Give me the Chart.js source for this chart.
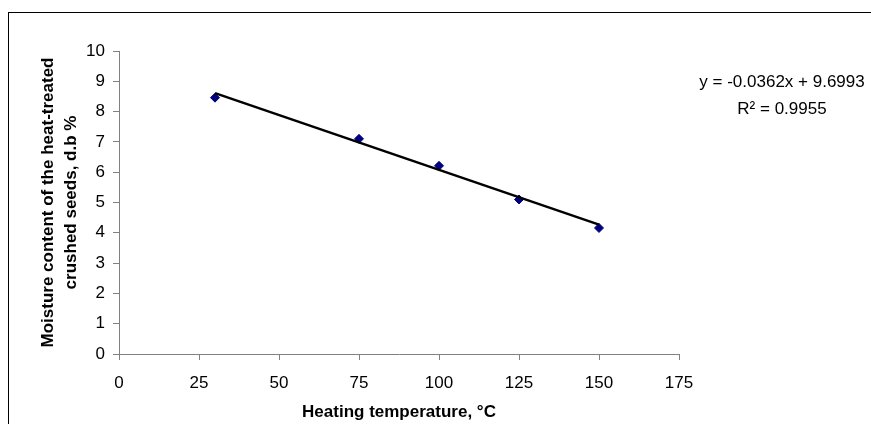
<!DOCTYPE html>
<html lang="en">
<head>
    <meta charset="UTF-8">
    <title>Moisture content vs heating temperature</title>
    <script src="https://cdn.jsdelivr.net/npm/chart.js"></script>
    <style>
        html, body {
            margin: 0;
            padding: 0;
            background: #fff;
            overflow: hidden;
        }
        .wrap {
            position: relative;
            width: 871px;
            height: 424px;
        }
        /* chart frame, only top and left edges are inside the picture */
        .frame {
            position: absolute;
            left: 8px;
            top: 12px;
            width: 900px;
            height: 500px;
            border: 1px solid #000;
        }
        canvas {
            position: absolute;
            left: 0;
            top: 0;
        }
    </style>
</head>
<body>
    <div class="wrap">
        <div class="frame"></div>
        <canvas id="myChart" width="871" height="424"></canvas>
    </div>

    <script>
        // data
        const temps = [30, 75, 100, 125, 150];
        const moisture = [8.46, 7.10, 6.21, 5.10, 4.16];

        // linear trendline ends, as drawn
        const trendX = [30, 150];
        const trendY = [8.61, 4.27];

        const xTicks = [0, 25, 50, 75, 100, 125, 150, 175];
        const yTicks = [0, 1, 2, 3, 4, 5, 6, 7, 8, 9, 10];

        const eqLine1 = 'y = -0.0362x + 9.6993';
        const eqLine2 = 'R² = 0.9955';

        const axisGray = '#808080';
        const font = 'Liberation Sans';

        // equation text next to the plot
        const equationPlugin = {
            id: 'equation',
            afterDraw(chart) {
                const ctx = chart.ctx;
                const area = chart.chartArea;
                const cx = area.right + 103;
                ctx.save();
                ctx.fillStyle = '#000';
                ctx.font = '17px "' + font + '"';
                ctx.textAlign = 'center';
                ctx.textBaseline = 'middle';
                ctx.fillText(eqLine1, cx, area.top + 31);
                ctx.fillText(eqLine2, cx, area.top + 58);
                ctx.restore();
            }
        };

        const points = temps.map((t, i) => ({ x: t, y: moisture[i] }));
        const trend = trendX.map((t, i) => ({ x: t, y: trendY[i] }));

        const ctx = document.getElementById('myChart').getContext('2d');
        const myChart = new Chart(ctx, {
            type: 'scatter',
            data: {
                datasets: [
                    {
                        label: 'Trend',
                        data: trend,
                        showLine: true,
                        borderColor: '#000',
                        borderWidth: 2.5,
                        pointRadius: 0,
                        fill: false
                    },
                    {
                        label: 'Moisture',
                        data: points,
                        pointStyle: 'rectRot',
                        pointRadius: 4.5,
                        backgroundColor: '#000080',
                        borderColor: '#000080',
                        borderWidth: 1
                    }
                ]
            },
            options: {
                responsive: false,
                animation: false,
                devicePixelRatio: 1,
                layout: {
                    padding: { left: 0, top: 51, right: 192, bottom: 0 }
                },
                plugins: {
                    legend: { display: false },
                    tooltip: { enabled: false }
                },
                scales: {
                    x: {
                        type: 'linear',
                        min: 0,
                        max: 175,
                        afterBuildTicks: (scale) => {
                            scale.ticks = xTicks.map(v => ({ value: v }));
                        },
                        afterFit: (scale) => {
                            scale.height = 70;
                        },
                        grid: {
                            drawOnChartArea: false,
                            drawTicks: true,
                            tickLength: 6,
                            tickColor: axisGray
                        },
                        border: { display: true, color: axisGray, width: 1 },
                        ticks: {
                            color: '#000',
                            padding: 13,
                            font: { family: font, size: 17 }
                        },
                        title: {
                            display: true,
                            text: 'Heating temperature, °C',
                            color: '#000',
                            padding: { top: 0, bottom: 1 },
                            font: { family: font, size: 17, weight: 'bold' }
                        }
                    },
                    y: {
                        type: 'linear',
                        min: 0,
                        max: 10,
                        afterBuildTicks: (scale) => {
                            scale.ticks = yTicks.map(v => ({ value: v }));
                        },
                        afterFit: (scale) => {
                            scale.width = 119;
                        },
                        grid: {
                            drawOnChartArea: false,
                            drawTicks: true,
                            tickLength: 6,
                            tickColor: axisGray
                        },
                        border: { display: true, color: axisGray, width: 1 },
                        ticks: {
                            color: '#000',
                            padding: 8,
                            font: { family: font, size: 17 }
                        },
                        title: {
                            display: true,
                            text: ['Moisture content of the heat-treated', 'crushed seeds, d.b %'],
                            color: '#000',
                            padding: { top: 37, bottom: 0 },
                            font: { family: font, size: 17, weight: 'bold', lineHeight: 1.35 }
                        }
                    }
                }
            },
            plugins: [equationPlugin]
        });
    </script>
</body>
</html>
